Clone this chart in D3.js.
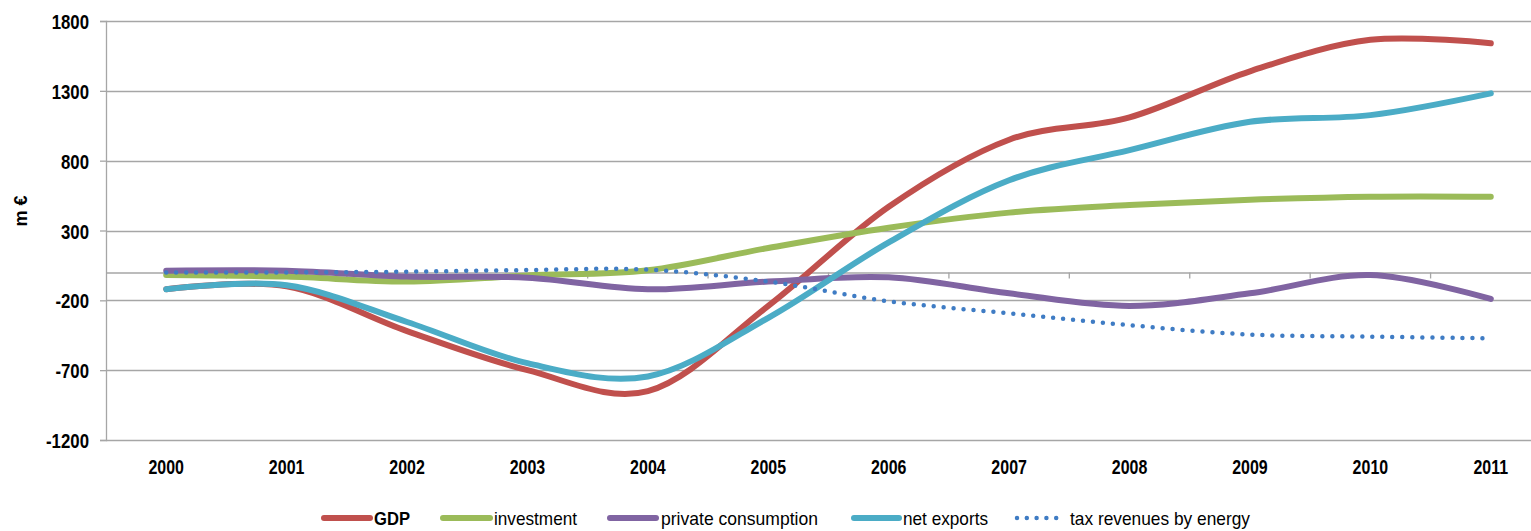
<!DOCTYPE html>
<html>
<head>
<meta charset="utf-8">
<script src="https://cdn.jsdelivr.net/npm/d3@7"></script>
<style>
html,body{margin:0;padding:0;background:#fff;}
svg{display:block;}
text{font-family:"Liberation Sans",Arial,sans-serif;fill:#000;}
</style>
</head>
<body>
<svg id="chart" width="1531" height="531"></svg>
<script>
const years = ["2000","2001","2002","2003","2004","2005","2006","2007","2008","2009","2010","2011"];
const yTicks = [-1200,-700,-200,300,800,1300,1800];
const gdp = [-120,-100,-420,-700,-850,-240,470,950,1110,1440,1665,1640];
const investment = [-18,-30,-65,-22,15,175,320,428,482,520,542,542];
const privateConsumption = [12,12,-30,-38,-121,-66,-35,-150,-240,-150,-19,-190];
const netExports = [-120,-92,-355,-650,-745,-325,215,660,875,1078,1126,1282];
const taxRevenues = [0,0,5,17,20,-66,-207,-293,-378,-445,-460,-472];

const seriesNames = ["GDP","investment","private consumption","net exports","tax revenues by energy"];
const seriesColors = ["#C0504D","#9BBB59","#8064A2","#4BACC6","#3F7CC4"];
const seriesData = [gdp, investment, privateConsumption, netExports, taxRevenues];

(function(){
const svg = d3.select("#chart");
const mLeft = 106, mRight = 1551, mTop = 21, mBottom = 440;

const x = d3.scaleBand().domain(years).range([mLeft, mRight]);
const y = d3.scaleLinear().domain([-1200, 1800]).range([mBottom, mTop]);
const gridColor = "#A6A6A6";

function squeeze(sel, f) {
  sel.each(function() {
    const len = this.getComputedTextLength();
    d3.select(this).attr("textLength", len * f).attr("lengthAdjust", "spacingAndGlyphs");
  });
}

// gridlines
svg.append("g").selectAll("line").data(yTicks).join("line")
  .attr("x1", mLeft).attr("x2", 1531)
  .attr("y1", d => Math.round(y(d)) + 0.5).attr("y2", d => Math.round(y(d)) + 0.5)
  .attr("stroke", gridColor).attr("stroke-width", 1.3);

// y axis
const yAxis = d3.axisLeft(y).tickValues(yTicks).tickFormat(d => String(d)).tickSize(6).tickPadding(11);
const gy = svg.append("g").attr("transform", `translate(${mLeft},0)`).call(yAxis);
gy.select(".domain").attr("stroke", gridColor).attr("stroke-width", 1.3);
gy.selectAll(".tick line").attr("stroke", gridColor).attr("stroke-width", 1.3);
const yt = gy.selectAll(".tick text").attr("font-size", 21).attr("font-weight", "bold")
  .style("font-family", "'Liberation Sans',Arial,sans-serif").attr("dy", "0.36em");
squeeze(yt, 0.8);

// zero category axis with ticks between categories
const zeroY = Math.round(y(0)) + 0.5;
const gz = svg.append("g").attr("transform", `translate(0,${zeroY})`)
  .call(d3.axisBottom(x).tickSize(0).tickFormat(""));
gz.select(".domain").attr("stroke", gridColor).attr("stroke-width", 1.3);
const boundaries = years.slice(1).map(d => x(d));
svg.append("g").selectAll("line").data(boundaries).join("line")
  .attr("x1", d => d).attr("x2", d => d)
  .attr("y1", zeroY).attr("y2", zeroY + 6)
  .attr("stroke", gridColor).attr("stroke-width", 1.3);

// x labels at bottom
const gx = svg.append("g").attr("transform", `translate(0,${mBottom})`)
  .call(d3.axisBottom(x).tickSize(0).tickPadding(19));
gx.select(".domain").remove();
const xt = gx.selectAll(".tick text").attr("font-size", 21).attr("font-weight", "bold")
  .style("font-family", "'Liberation Sans',Arial,sans-serif");
squeeze(xt, 0.76);

// y title
svg.append("text")
  .attr("transform", "translate(27,211) rotate(-90)")
  .attr("text-anchor", "middle")
  .attr("font-size", 18).attr("font-weight", "bold")
  .text("m €");

// lines
const line = d3.line()
  .x((d, i) => x(years[i]) + x.bandwidth() / 2)
  .y(d => y(d))
  .curve(d3.curveCardinal.tension(0));

seriesData.forEach((data, i) => {
  const p = svg.append("path").datum(data)
    .attr("d", line)
    .attr("fill", "none")
    .attr("stroke", seriesColors[i])
    .attr("stroke-linecap", "round")
    .attr("stroke-linejoin", "round");
  if (i === 4) {
    p.attr("stroke-width", 4.5).attr("stroke-dasharray", "0 10");
  } else {
    p.attr("stroke-width", 6);
  }
});

// legend
const legendItems = [
  {x1: 324, x2: 370, tx: 374, w: 36},
  {x1: 443, x2: 490, tx: 494, w: 83},
  {x1: 610, x2: 656, tx: 661, w: 157},
  {x1: 854, x2: 899, tx: 903, w: 85},
  {x1: 1017, x2: 1066, tx: 1070, w: 180}
];
const ly = 518;
const lg = svg.append("g");
legendItems.forEach((it, i) => {
  const l = lg.append("line")
    .attr("x1", it.x1).attr("x2", it.x2).attr("y1", ly).attr("y2", ly)
    .attr("stroke", seriesColors[i]).attr("stroke-linecap", "round");
  if (i === 4) l.attr("stroke-width", 4.5).attr("stroke-dasharray", "0 9.8");
  else l.attr("stroke-width", 6);
  lg.append("text")
    .attr("x", it.tx).attr("y", ly).attr("dy", "0.36em")
    .attr("font-size", 19).attr("font-weight", i === 0 ? "bold" : "normal")
    .attr("textLength", it.w).attr("lengthAdjust", "spacingAndGlyphs")
    .text(seriesNames[i]);
});
})();
</script>
</body>
</html>
